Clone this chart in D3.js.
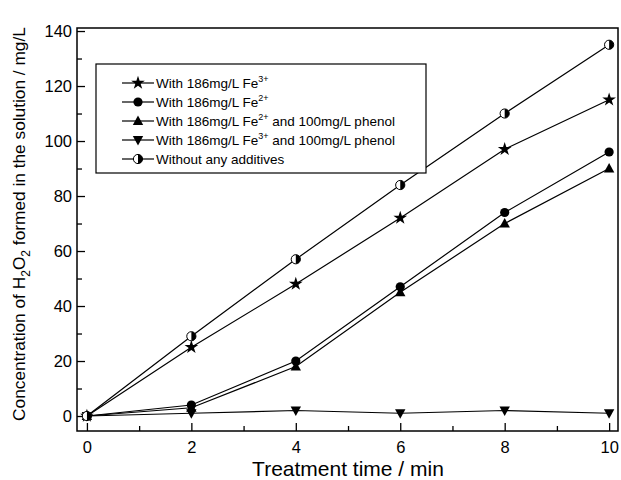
<!DOCTYPE html>
<html><head><meta charset="utf-8">
<script src="https://cdn.jsdelivr.net/npm/d3@7"></script>
<style>body{margin:0;background:#fff}svg{font-family:"Liberation Sans",Arial,sans-serif}</style>
</head><body>
<svg id="c" width="621" height="480"></svg>
<script>
const times = [0, 2, 4, 6, 8, 10];
const fe3 = [0, 25, 48, 72, 97, 115];
const fe2 = [0, 4, 20, 47, 74, 96];
const fe2Phenol = [0, 3, 18, 45, 70, 90];
const fe3Phenol = [0, 1, 2, 1, 2, 1];
const noAdditive = [0, 29, 57, 84, 110, 135];
const xTicks = [0, 2, 4, 6, 8, 10];
const yTicks = [0, 20, 40, 60, 80, 100, 120, 140];

const series = [
  {name: "fe3", vals: fe3, sym: "star", label: [["With 186mg/L Fe"],["3+","sup"]]},
  {name: "fe2", vals: fe2, sym: "circle", label: [["With 186mg/L Fe"],["2+","sup"]]},
  {name: "fe2p", vals: fe2Phenol, sym: "up", label: [["With 186mg/L Fe"],["2+","sup"],[" and 100mg/L phenol"]]},
  {name: "fe3p", vals: fe3Phenol, sym: "down", label: [["With 186mg/L Fe"],["3+","sup"],[" and 100mg/L phenol"]]},
  {name: "none", vals: noAdditive, sym: "half", label: [["Without  any additives"]]}
];

const svg = d3.select("#c");
const L = 77, R = 618, T = 28, B = 431;
const x = d3.scaleLinear().domain([-0.19, 10.17]).range([L, R]);
const y = d3.scaleLinear().domain([-5.45, 141.1]).range([B, T]);
const FONT = "Liberation Sans, Arial, sans-serif";

// frame
svg.append("rect").attr("x", L).attr("y", T).attr("width", R - L).attr("height", B - T)
  .attr("fill", "none").attr("stroke", "#000").attr("stroke-width", 1.5);

// x axis: inward ticks
const xMinor = d3.range(1, 10, 2);
svg.append("g").attr("transform", `translate(0,${B})`)
  .call(d3.axisBottom(x).tickValues(xTicks).tickSizeInner(-8).tickSizeOuter(0).tickPadding(10).tickFormat(d3.format("d")))
  .call(g => g.select(".domain").remove())
  .call(g => g.selectAll("text").attr("font-size", 16.5).attr("fill", "#000").attr("font-family", FONT))
  .call(g => g.selectAll("line").attr("stroke-width", 1.3));
svg.append("g").attr("transform", `translate(0,${B})`)
  .call(d3.axisBottom(x).tickValues(xMinor).tickSizeInner(-5).tickSizeOuter(0).tickFormat(""))
  .call(g => g.select(".domain").remove())
  .call(g => g.selectAll("line").attr("stroke-width", 1.3));

// y axis: inward ticks
const yMinor = d3.range(10, 140, 20);
svg.append("g").attr("transform", `translate(${L},0)`)
  .call(d3.axisLeft(y).tickValues(yTicks).tickSizeInner(-8).tickSizeOuter(0).tickPadding(5).tickFormat(d3.format("d")))
  .call(g => g.select(".domain").remove())
  .call(g => g.selectAll("text").attr("font-size", 16.5).attr("fill", "#000").attr("font-family", FONT))
  .call(g => g.selectAll("line").attr("stroke-width", 1.3));
svg.append("g").attr("transform", `translate(${L},0)`)
  .call(d3.axisLeft(y).tickValues(yMinor).tickSizeInner(-5).tickSizeOuter(0).tickFormat(""))
  .call(g => g.select(".domain").remove())
  .call(g => g.selectAll("line").attr("stroke-width", 1.3));

// axis titles
svg.append("text").attr("x", 348).attr("y", 476).attr("text-anchor", "middle")
  .attr("font-size", 21).text("Treatment time / min");
const yl = svg.append("text").attr("transform", "translate(25,224) rotate(-90)")
  .attr("text-anchor", "middle").attr("font-size", 17.3);
yl.append("tspan").text("Concentration of H");
yl.append("tspan").attr("font-size", 12).attr("dy", 5).text("2");
yl.append("tspan").attr("dy", -5).text("O");
yl.append("tspan").attr("font-size", 12).attr("dy", 5).text("2");
yl.append("tspan").attr("dy", -5).text(" formed in the solution / mg/L");

// markers
function drawMarker(g, sym, cx, cy) {
  const r = 4.6;
  if (sym === "circle") {
    g.append("circle").attr("cx", cx).attr("cy", cy).attr("r", r).attr("fill", "#000");
  } else if (sym === "star") {
    g.append("path").attr("d", d3.symbol(d3.symbolStar, 58)()).attr("transform", `translate(${cx},${cy})`).attr("fill", "#000");
  } else if (sym === "up") {
    g.append("path").attr("d", `M${cx},${cy - 5.5}L${cx + 5.2},${cy + 4}L${cx - 5.2},${cy + 4}Z`).attr("fill", "#000");
  } else if (sym === "down") {
    g.append("path").attr("d", `M${cx},${cy + 5.5}L${cx + 5.2},${cy - 4}L${cx - 5.2},${cy - 4}Z`).attr("fill", "#000");
  } else if (sym === "half") {
    g.append("circle").attr("cx", cx).attr("cy", cy).attr("r", r).attr("fill", "#fff").attr("stroke", "#000").attr("stroke-width", 1);
    g.append("path").attr("d", `M${cx},${cy - r}A${r},${r} 0 0 1 ${cx},${cy + r}Z`).attr("fill", "#000");
  }
}

const line = d3.line().x((d, i) => x(times[i])).y(d => y(d));
series.forEach(s => {
  svg.append("path").datum(s.vals).attr("d", line).attr("fill", "none").attr("stroke", "#000").attr("stroke-width", 1.2);
});
series.forEach(s => {
  const g = svg.append("g");
  s.vals.forEach((v, i) => drawMarker(g, s.sym, x(times[i]), y(v)));
});

// legend
const lg = svg.append("g");
lg.append("rect").attr("x", 96).attr("y", 64).attr("width", 330).attr("height", 109)
  .attr("fill", "#fff").attr("stroke", "#000").attr("stroke-width", 1.2);
series.forEach((s, i) => {
  const yy = 83 + i * 19;
  lg.append("line").attr("x1", 122).attr("x2", 154).attr("y1", yy).attr("y2", yy).attr("stroke", "#000").attr("stroke-width", 1.2);
  drawMarker(lg, s.sym, 138, yy);
  const t = lg.append("text").attr("x", 156).attr("y", yy + 5).attr("font-size", 13.5);
  let up = false;
  s.label.forEach(part => {
    const sp = t.append("tspan").text(part[0]);
    if (part[1] === "sup") { sp.attr("font-size", 9).attr("dy", -6); up = true; }
    else if (up) { sp.attr("dy", 6); up = false; }
  });
});
</script>
</body></html>
